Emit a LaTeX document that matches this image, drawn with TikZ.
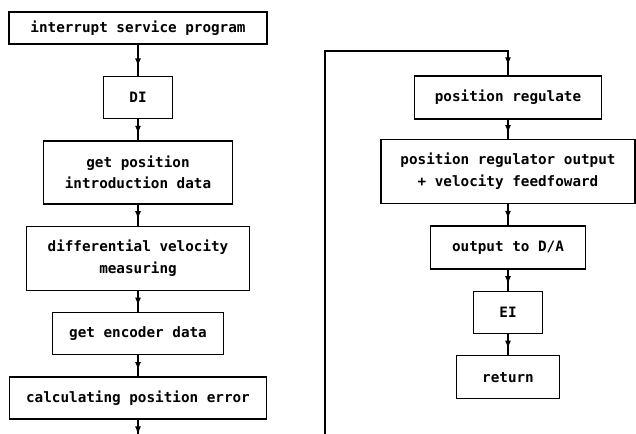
\documentclass[tikz,border=0pt]{standalone}
\usepackage{fontspec}
\newfontfamily\flowfont{DejaVu Sans Mono}
\usetikzlibrary{arrows.meta,positioning,calc,decorations.markings}
\tikzstyle{block} = [rectangle, draw=black, line width=1.2pt, inner sep=0pt, align=center, font=\flowfont\bfseries\fontsize{12.2}{18.5}\selectfont]
\tikzstyle{flow} = [line width=1.2pt, postaction={decorate}, decoration={markings, mark=at position 0.7 with {\arrow{Latex[length=2.4mm,width=1.8mm]}}}]
\tikzstyle{feedback} = [line width=1.1pt, postaction={decorate}, decoration={markings, mark=at position -0.3cm with {\arrow{Latex[length=2.4mm,width=1.8mm]}}}]

\begin{document}
\begin{tikzpicture}
\useasboundingbox (0,0) rectangle (19.08,-13.02);

% LINKE SPALTE - Interrupt-Routine
\node (isr) [block, minimum width=7.74cm, minimum height=0.96cm] at (4.14,-0.84) {interrupt service program};
\node (di) [block, minimum width=2.07cm, minimum height=1.26cm, below=0.93cm of isr] {DI};
\node (getpos) [block, minimum width=5.67cm, minimum height=1.89cm, below=0.63cm of di] {get position\\introduction data};
\node (velo) [block, minimum width=6.69cm, minimum height=1.92cm, below=0.63cm of getpos] {differential velocity\\measuring};
\node (encoder) [block, minimum width=5.13cm, minimum height=1.26cm, below=0.63cm of velo] {get encoder data};
\node (poserr) [block, minimum width=7.71cm, minimum height=1.26cm, below=0.63cm of encoder] {calculating position error};
\coordinate (errout) at ($(poserr.south)+(0,-0.63)$);

% RECHTE SPALTE - Regelung und Ausgabe
\node (posreg) [block, minimum width=5.61cm, minimum height=1.29cm] at (15.24,-2.925) {position regulate};
\node (regout) [block, minimum width=7.62cm, minimum height=1.92cm, below=0.57cm of posreg] {position regulator output\\+ velocity feedfoward};
\node (da) [block, minimum width=4.65cm, minimum height=1.29cm, below=0.63cm of regout] {output to D/A};
\node (ei) [block, minimum width=2.07cm, minimum height=1.26cm, below=0.63cm of da] {EI};
\node (ret) [block, minimum width=3.09cm, minimum height=1.29cm, below=0.63cm of ei] {return};

% Rueckfuehrung von unten
\coordinate (loopin) at (9.75,-13.02);
\coordinate (loopcorner) at (9.75,-1.53);

% PFEILE - links
\draw [flow] (isr) -- (di);
\draw [flow] (di) -- (getpos);
\draw [flow] (getpos) -- (velo);
\draw [flow] (velo) -- (encoder);
\draw [flow] (encoder) -- (poserr);
\draw [flow] (poserr) -- (errout);

% PFEILE - rechts
\draw [feedback] (loopin) -- (loopcorner) -| (posreg.north);
\draw [flow] (posreg) -- (regout);
\draw [flow] (regout) -- (da);
\draw [flow] (da) -- (ei);
\draw [flow] (ei) -- (ret);

\end{tikzpicture}
\end{document}
